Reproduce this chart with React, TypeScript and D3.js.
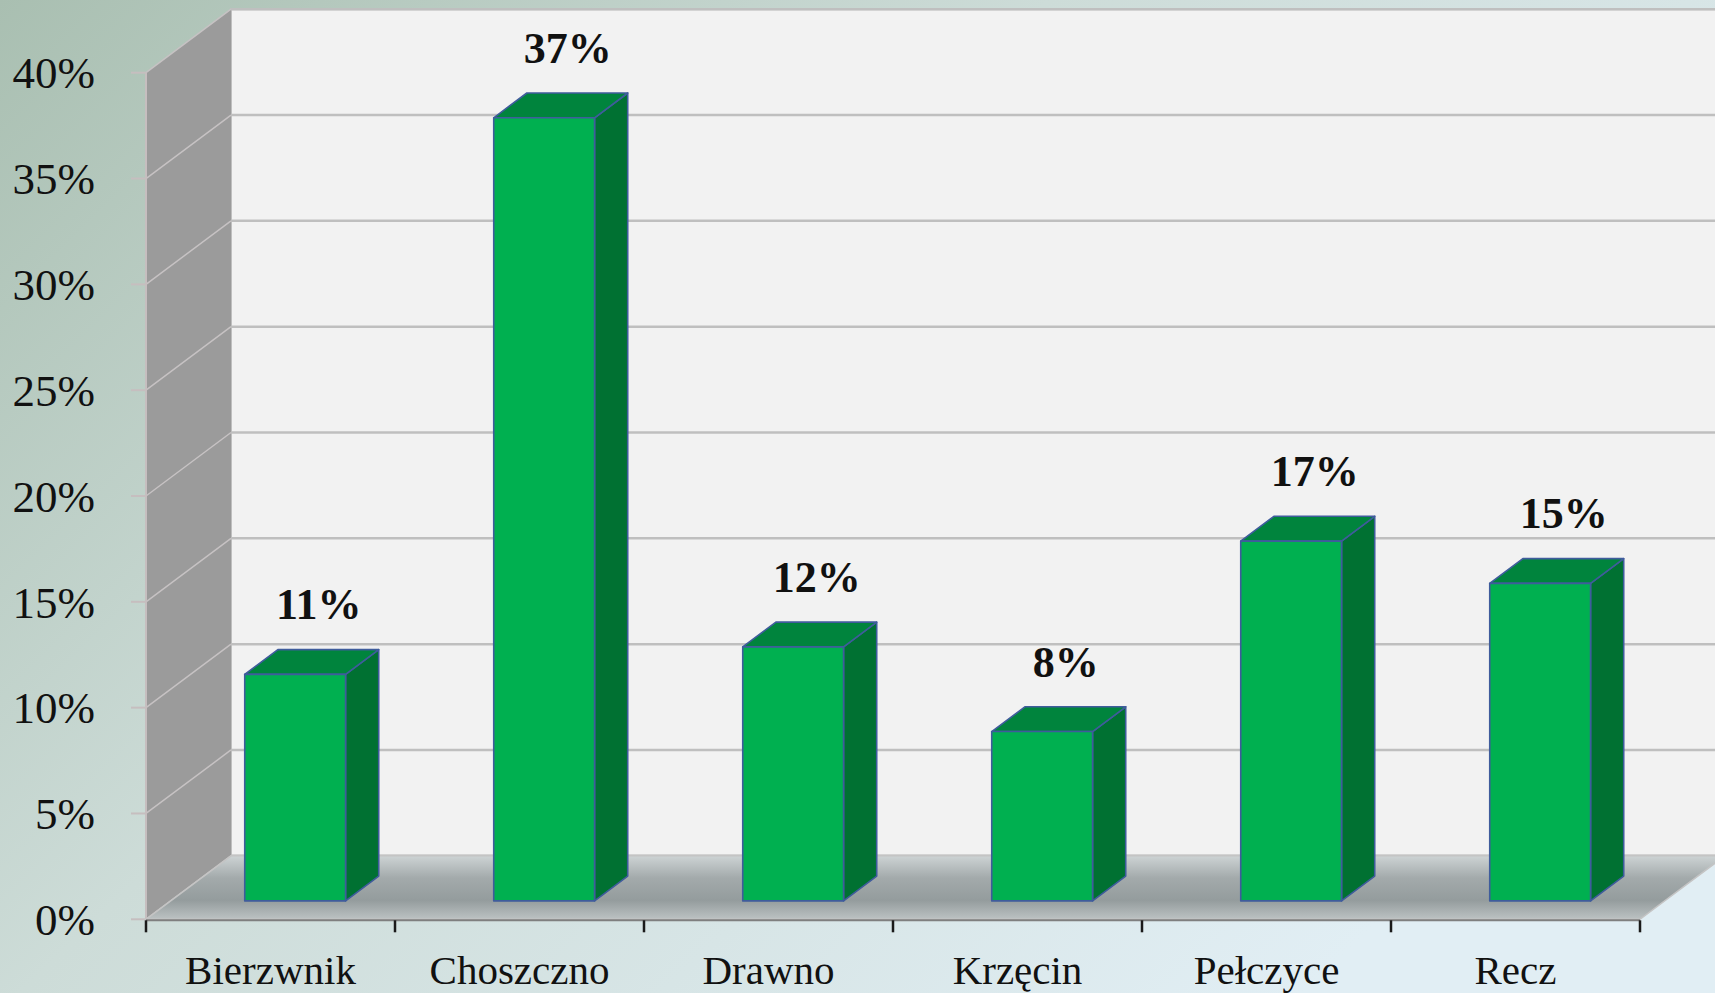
import React from 'react'
import * as d3 from 'd3'

// gminy i udział procentowy
const categories = ['Bierzwnik', 'Choszczno', 'Drawno', 'Krzęcin', 'Pełczyce', 'Recz']
const shares = [0.107, 0.37, 0.12, 0.08, 0.17, 0.15]
const yTicks = [0, 0.05, 0.1, 0.15, 0.2, 0.25, 0.3, 0.35, 0.4]

const W = 1715
const H = 993
// głębokość pseudo-3D
const DX = 85
const DY = -63.5
const SERIF = "'Liberation Serif', 'DejaVu Serif', serif"

const App = () => {
  const x = d3.scaleBand<string>().domain(categories).range([146, 1640]).padding(0)
  const y = d3.scaleLinear().domain([0, 0.4]).range([919.3, 72.7])
  const fmt = d3.format('.0%')

  const barW = x.bandwidth() * 0.405
  const f0 = 0.29 // przód słupka w głąb
  const fd = 0.39 // grubość słupka
  const ox = DX * f0
  const oy = DY * f0
  const bx = DX * fd
  const by = DY * fd

  const y0 = y(0)
  const yTop = y(0.4)
  const xL = x.range()[0]
  const xR = x.range()[1]

  const pts = (p: [number, number][]) => p.map((d) => d.join(',')).join(' ')

  return (
    <svg width={W} height={H} style={{ position: 'absolute', left: 0, top: 0, display: 'block' }}>
      <defs>
        <linearGradient id="bg" x1="0" y1="0" x2="1" y2="0.6">
          <stop offset="0" stopColor="#a9bfb1" />
          <stop offset="0.45" stopColor="#cddcd8" />
          <stop offset="1" stopColor="#e1eef4" />
        </linearGradient>
        <linearGradient id="floor" x1="0" y1="0" x2="0" y2="1">
          <stop offset="0" stopColor="#cdd3d4" />
          <stop offset="0.35" stopColor="#a3aaab" />
          <stop offset="0.7" stopColor="#949c9d" />
          <stop offset="1" stopColor="#bcc2c3" />
        </linearGradient>
      </defs>
      <rect width={W} height={H} fill="url(#bg)" />

      {/* tylna ściana */}
      <rect x={xL + DX} y={yTop + DY} width={W} height={y0 - yTop} fill="#f2f2f2" stroke="#bfbfbf" strokeWidth={2} />
      {yTicks.map((t) => (
        <line key={'g' + t} x1={xL + DX} x2={W} y1={y(t) + DY} y2={y(t) + DY} stroke="#bfbfbf" strokeWidth={2.5} />
      ))}

      {/* boczna ściana */}
      <polygon
        points={pts([
          [xL, y0],
          [xL, yTop],
          [xL + DX, yTop + DY],
          [xL + DX, y0 + DY],
        ])}
        fill="#9b9b9b"
      />
      {yTicks.map((t) => (
        <g key={'s' + t}>
          <line x1={xL} y1={y(t)} x2={xL + DX} y2={y(t) + DY} stroke="#c6c2c3" strokeWidth={1.5} />
          <line x1={xL - 15} x2={xL} y1={y(t)} y2={y(t)} stroke="#c6bebf" strokeWidth={2} />
          <text
            x={95}
            y={y(t)}
            dy="0.35em"
            textAnchor="end"
            fontFamily={SERIF}
            fontSize={45}
            fill="#111"
          >
            {fmt(t)}
          </text>
        </g>
      ))}
      <line x1={xL} x2={xL} y1={yTop} y2={y0} stroke="#c6bebf" strokeWidth={2} />

      {/* podłoga */}
      <polygon
        points={pts([
          [xL, y0],
          [xR, y0],
          [xR + DX, y0 + DY],
          [xL + DX, y0 + DY],
        ])}
        fill="url(#floor)"
        stroke="#c4c4c4"
        strokeWidth={1.5}
      />
      <line x1={xL} x2={xR} y1={y0 + 1} y2={y0 + 1} stroke="#7f7f7f" strokeWidth={2} />

      {/* oś X */}
      {[...categories.map((c) => x(c) as number), xR].map((px, i) => (
        <line key={'t' + i} x1={px} x2={px} y1={y0 + 1} y2={y0 + 13} stroke="#1a1a1a" strokeWidth={2.5} />
      ))}
      {categories.map((c) => (
        <text
          key={'c' + c}
          x={(x(c) as number) + x.bandwidth() / 2}
          y={984}
          textAnchor="middle"
          fontFamily={SERIF}
          fontSize={41}
          fill="#111"
        >
          {c}
        </text>
      ))}

      {/* słupki */}
      {categories.map((c, i) => {
        const cx = (x(c) as number) + x.bandwidth() / 2 + ox
        const l = cx - barW / 2
        const r = cx + barW / 2
        const b = y0 + oy
        const t = y(shares[i]) + oy
        return (
          <g key={'b' + c} stroke="#3f5c9c" strokeWidth={1.6} strokeLinejoin="round">
            <polygon points={pts([[r, b], [r, t], [r + bx, t + by], [r + bx, b + by]])} fill="#007132" />
            <polygon points={pts([[l, t], [r, t], [r + bx, t + by], [l + bx, t + by]])} fill="#00843d" />
            <rect x={l} y={t} width={barW} height={b - t} fill="#00b050" />
            <text
              x={cx + bx / 2 + 7}
              y={t - 55}
              textAnchor="middle"
              fontFamily={SERIF}
              fontWeight="bold"
              fontSize={44}
              fill="#111"
              stroke="none"
            >
              {fmt(shares[i])}
            </text>
          </g>
        )
      })}
    </svg>
  )
}

export default App
